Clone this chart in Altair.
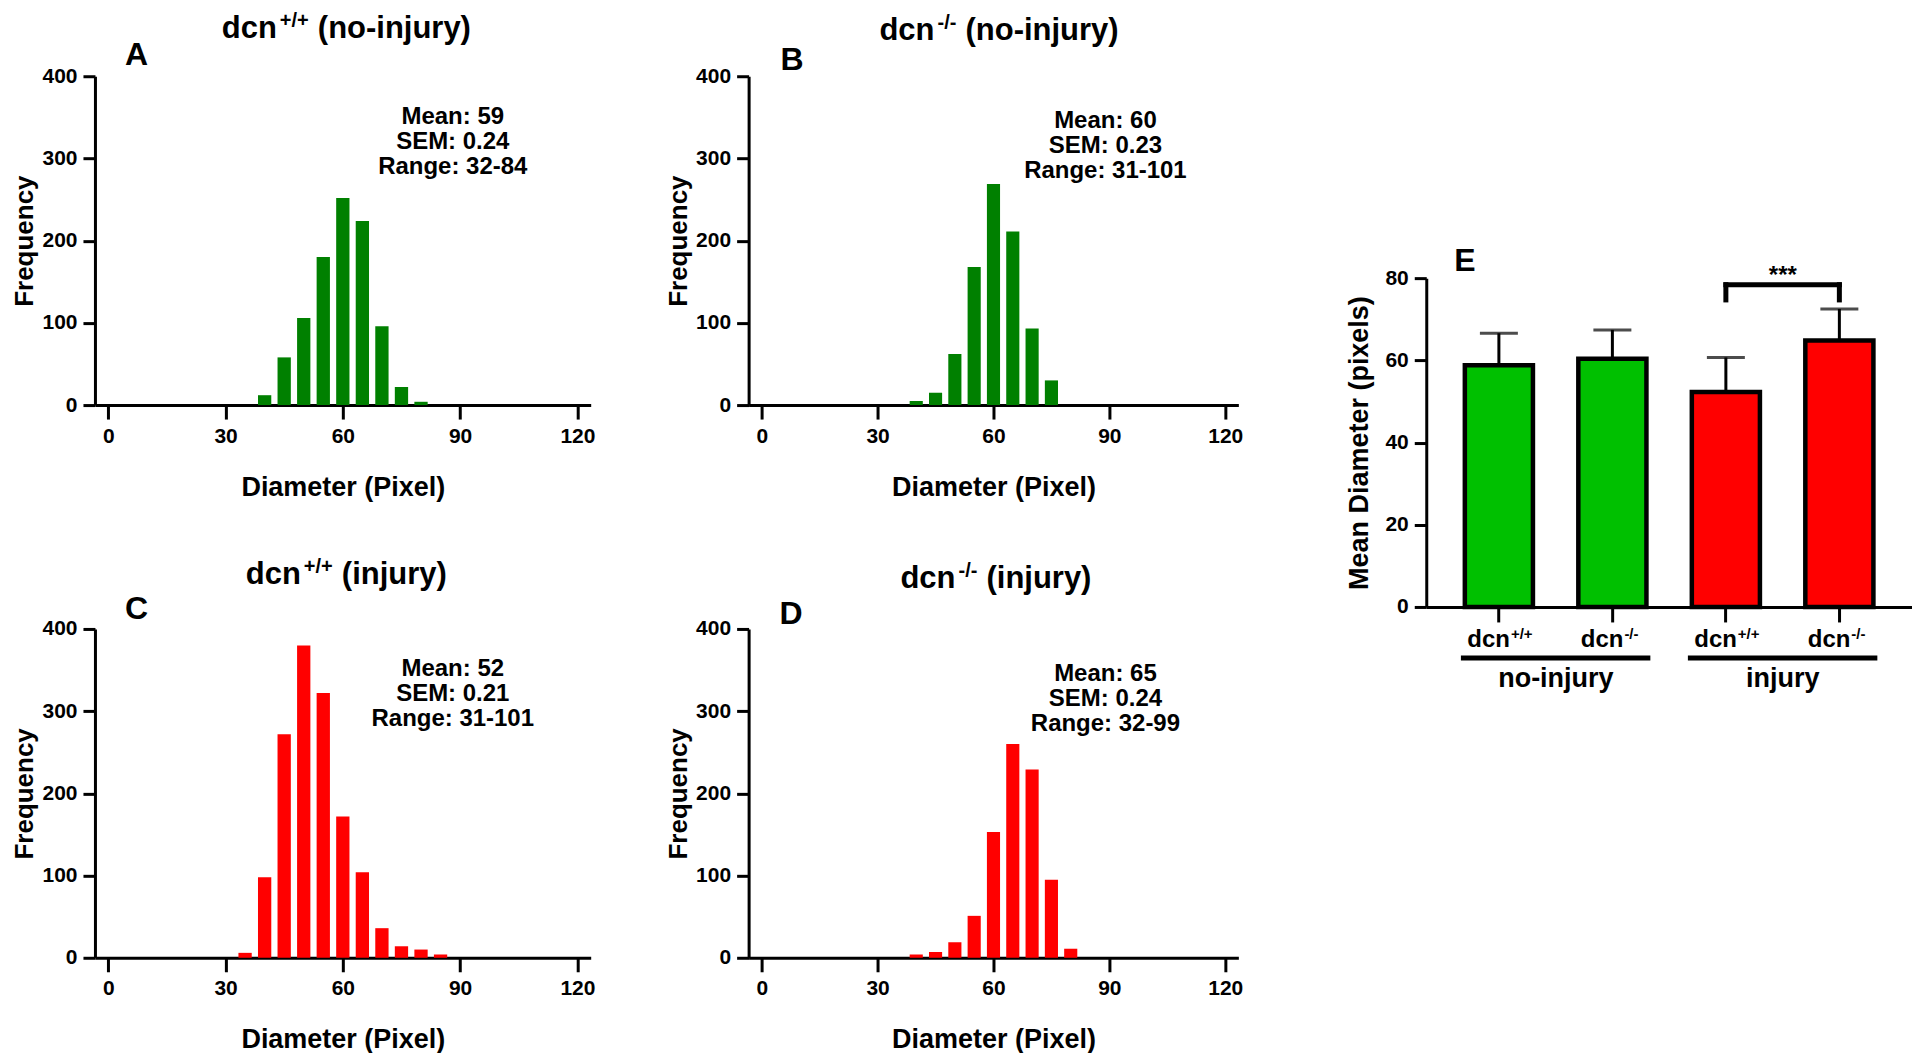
import altair as alt
import pandas as pd

FONT = "Liberation Sans"

# ---------------- data ----------------
centers_A = [40, 45, 50, 55, 60, 65, 70, 75, 80]
freq_A = [12, 58, 106, 180, 252, 224, 96, 22, 4]
centers_B = [40, 45, 50, 55, 60, 65, 70, 75]
freq_B = [5, 15, 62, 168, 269, 211, 93, 30]
centers_C = [35, 40, 45, 50, 55, 60, 65, 70, 75, 80, 85]
freq_C = [6, 98, 272, 380, 322, 172, 104, 36, 14, 10, 4]
centers_D = [40, 45, 50, 55, 60, 65, 70, 75, 80]
freq_D = [4, 7, 19, 51, 153, 260, 229, 95, 11]

stats_A = ["Mean: 59", "SEM: 0.24", "Range: 32-84"]
stats_B = ["Mean: 60", "SEM: 0.23", "Range: 31-101"]
stats_C = ["Mean: 52", "SEM: 0.21", "Range: 31-101"]
stats_D = ["Mean: 65", "SEM: 0.24", "Range: 32-99"]

x_ticks = [0, 30, 60, 90, 120]
y_ticks_hist = [0, 100, 200, 300, 400]
bin_half = 1.7

e_groups = ["no-injury", "no-injury", "injury", "injury"]
e_genotypes = ["+/+", "-/-", "+/+", "-/-"]
e_means = [58.8, 60.4, 52.3, 64.8]
e_upper = [66.6, 67.4, 60.7, 72.5]
e_colors = ["#00C000", "#00C000", "#FF0000", "#FF0000"]
e_y_ticks = [0, 20, 40, 60, 80]
sig_label = "***"
sig_top = 78.4
sig_leg = 74.7
sig_text_y = 80.4

DARK_GREEN = "#008000"
RED = "#FF0000"


def hist_panel(centers, freqs, color, letter, sup, cond, stats, width, xrange, lay):
    df = pd.DataFrame({"center": centers, "freq": freqs, "base": [0] * len(centers)})
    sc = dict(domain=[-3.4, 123.4], nice=False, zero=False)
    if xrange is not None:
        sc["range"] = xrange
    bars = (
        alt.Chart(df)
        .transform_calculate(lo=f"datum.center - {bin_half}", hi=f"datum.center + {bin_half}")
        .mark_bar(color=color)
        .encode(
            x=alt.X("lo:Q", scale=alt.Scale(**sc),
                    axis=alt.Axis(values=x_ticks, title="Diameter (Pixel)", tickSize=14,
                                  labelPadding=6, titlePadding=28)),
            x2="hi:Q",
            y=alt.Y("freq:Q", scale=alt.Scale(domain=[0, 400], nice=False),
                    axis=alt.Axis(values=y_ticks_hist, title="Frequency", tickSize=12,
                                  labelPadding=6, titlePadding=4, titleFontSize=26)),
            y2="base:Q",
        )
    )
    tdf = pd.DataFrame({"dcn": ["dcn"], "sup": [sup], "cond": ["(" + cond + ")"],
                        "letter": [letter], "stats": ["\n".join(stats)]})
    base = alt.Chart(tdf)
    jx, pofs, ty, lx, ly, sx, sy = lay
    t1 = base.mark_text(font=FONT, fontWeight="bold", fontSize=31, align="right",
                        baseline="alphabetic", color="black").encode(
        x=alt.value(jx - 1), y=alt.value(ty), text="dcn:N")
    t2 = base.mark_text(font=FONT, fontWeight="bold", fontSize=20, align="left",
                        baseline="alphabetic", color="black").encode(
        x=alt.value(jx + 2), y=alt.value(ty - 11), text="sup:N")
    t3 = base.mark_text(font=FONT, fontWeight="bold", fontSize=31, align="left",
                        baseline="alphabetic", color="black").encode(
        x=alt.value(jx + pofs), y=alt.value(ty), text="cond:N")
    tl = base.mark_text(font=FONT, fontWeight="bold", fontSize=32, align="left",
                        baseline="alphabetic", color="black").encode(
        x=alt.value(lx), y=alt.value(ly), text="letter:N")
    ts = base.mark_text(font=FONT, fontWeight="bold", fontSize=24, align="center",
                        baseline="alphabetic", lineBreak="\n", lineHeight=25,
                        color="black").encode(
        x=alt.value(sx), y=alt.value(sy), text="stats:N")
    return alt.layer(bars, t1, t2, t3, tl, ts).properties(width=width, height=329)


A = hist_panel(centers_A, freq_A, DARK_GREEN, "A", "+/+", "no-injury", stats_A, 496, None,
               (183, 40, -38, 30, -11, 358, 48))
B = hist_panel(centers_B, freq_B, DARK_GREEN, "B", "-/-", "no-injury", stats_B, 520, [0, 490],
               (187, 30, -36, 32, -6, 357, 52))
C = hist_panel(centers_C, freq_C, RED, "C", "+/+", "injury", stats_C, 496, None,
               (207, 40, -45, 30, -10, 358, 47))
D = hist_panel(centers_D, freq_D, RED, "D", "-/-", "injury", stats_D, 520, [0, 490],
               (208, 30, -41, 31, -5, 357, 52))

# ---------------- panel E ----------------
cats = [f"{g} {s}" for g, s in zip(e_groups, e_genotypes)]
dfE = pd.DataFrame({"cat": cats, "group": e_groups, "geno": e_genotypes, "mean": e_means,
                    "upper": e_upper, "fill": e_colors, "dcn": ["dcn"] * 4})

axisXE = alt.Axis(labels=False, title=None, tickSize=15, offset=202)
axisYE = alt.Axis(values=e_y_ticks, title="Mean Diameter (pixels)", tickSize=12,
                  labelPadding=6, titlePadding=11)
scaleXE = alt.Scale(domain=cats, paddingInner=0.4, paddingOuter=0.34)
scaleYE = alt.Scale(domain=[0, 80], range=[531, 202], nice=False)


def xc(field="cat", first=False):
    if first:
        return alt.X(f"{field}:N", sort=cats, scale=scaleXE, axis=axisXE)
    return alt.X(f"{field}:N", sort=cats, axis=axisXE)


def yc(field, first=False):
    if first:
        return alt.Y(f"{field}:Q", scale=scaleYE, axis=axisYE)
    return alt.Y(f"{field}:Q", axis=axisYE)


barsE = alt.Chart(dfE).mark_bar(stroke="black", strokeWidth=4.5).encode(
    x=xc(first=True), y=yc("mean", first=True), fill=alt.Fill("fill:N", scale=None))
errE = alt.Chart(dfE).mark_rule(color="black", strokeWidth=3).encode(
    x=xc(), y=yc("mean"), y2="upper:Q")
capE = alt.Chart(dfE).mark_tick(color="black", size=38, thickness=3).encode(
    x=xc(), y=yc("upper"))
lab1 = alt.Chart(dfE).mark_text(font=FONT, fontWeight="bold", fontSize=24, align="right",
                                baseline="alphabetic", dx=11, color="black").encode(
    x=xc(), y=alt.value(571), text="dcn:N")
lab2 = alt.Chart(dfE).mark_text(font=FONT, fontWeight="bold", fontSize=15, align="left",
                                baseline="alphabetic", dx=12, color="black").encode(
    x=xc(), y=alt.value(563), text="geno:N")

dfG = pd.DataFrame({"start": [cats[0], cats[2]], "end": [cats[1], cats[3]],
                    "label": ["no-injury", "injury"]})
glines = alt.Chart(dfG).mark_rule(color="black", strokeWidth=5, xOffset=-38, x2Offset=38).encode(
    x=xc("start"), x2="end:N", y=alt.value(582))
glabels = alt.Chart(dfG).mark_text(font=FONT, fontWeight="bold", fontSize=27, align="center",
                                   baseline="alphabetic", dx=57, color="black").encode(
    x=xc("start"), y=alt.value(611), text="label:N")

dfS = pd.DataFrame({"a": [cats[2]], "b": [cats[3]], "top": [sig_top], "ty": [sig_text_y],
                    "label": [sig_label]})
dfL = pd.DataFrame({"cat": [cats[2], cats[3]], "top": [sig_top] * 2, "leg": [sig_leg] * 2})
brTop = alt.Chart(dfS).mark_rule(color="black", strokeWidth=5, strokeCap="square").encode(
    x=xc("a"), x2="b:N", y=yc("top"))
brLegs = alt.Chart(dfL).mark_rule(color="black", strokeWidth=5, strokeCap="square").encode(
    x=xc(), y=yc("leg"), y2="top:Q")
stars = alt.Chart(dfS).mark_text(font=FONT, fontWeight="bold", fontSize=24, align="center",
                                 baseline="middle", dx=57, color="black").encode(
    x=xc("a"), y=yc("ty"), text="label:N")
letterE = alt.Chart(pd.DataFrame({"t": ["E"]})).mark_text(
    font=FONT, fontWeight="bold", fontSize=32, align="left", baseline="alphabetic",
    color="black").encode(x=alt.value(28), y=alt.value(195), text="t:N")

E = alt.layer(barsE, errE, capE, lab1, lab2, glines, glabels, brTop, brLegs, stars,
              letterE).properties(width=486, height=329)

chart = (
    alt.concat(A, B, E, C, D, columns=3, spacing={"row": 224, "column": 158},
               bounds="flush", align="each")
    .properties(padding={"top": 3, "left": 3, "right": 0, "bottom": 0})
    .configure_view(stroke=None)
    .configure_axis(
        grid=False, domainColor="black", domainWidth=3, tickColor="black", tickWidth=3,
        labelFont=FONT, labelFontWeight="bold", labelFontSize=21, labelColor="black",
        titleFont=FONT, titleFontWeight="bold", titleFontSize=27, titleColor="black",
    )
)

chart.save("out.html", embed_options={"renderer": "svg", "actions": False})
